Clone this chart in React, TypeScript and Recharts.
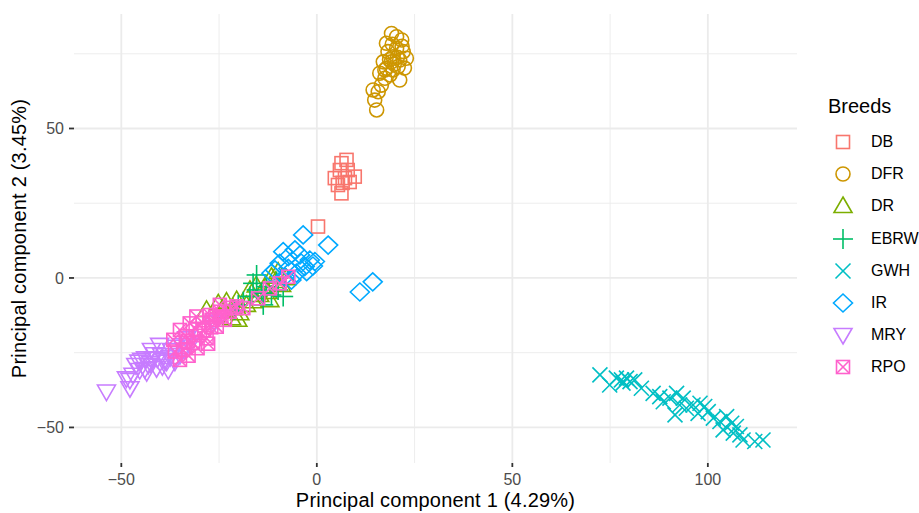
import React from "react";
import { ScatterChart, Scatter, XAxis, YAxis, ReferenceLine } from "recharts";

// PCA scores per breed, [PC1, PC2]
const dbPoints = [
  [7.6, 39.5], [6.3, 38.4], [5.9, 36.1], [4.6, 33.4], [9.7, 33.9], [6.3, 28.3],
  [7.2, 33.4], [6.6, 31.8], [7.9, 36.1], [8.4, 32.1], [5.4, 31.1], [0.3, 17.2],
];
const dfrPoints = [
  [15.3, 56.2], [14.8, 59.5], [14.4, 62.9], [15.7, 62.3], [16.5, 64.5], [17.4, 66.8],
  [18.7, 67.9], [19.5, 69.6], [20.8, 70.7], [19.1, 81.8], [20.4, 80.7], [21.7, 79.6],
  [17.8, 78.5], [18.2, 75.7], [22.1, 75.7], [22.9, 73.5], [17.0, 72.3], [19.5, 74.0],
  [21.2, 72.9], [17.8, 70.1], [20.4, 76.8], [19.1, 72.3], [17.4, 69.6], [21.2, 66.2],
  [16.1, 68.5], [19.8, 71.5], [20.6, 73.8], [18.6, 73.0], [21.8, 77.5], [19.3, 78.2],
  [22.4, 70.2],
];
const drPoints = [
  [-28.2, -10.7], [-25.2, -8.5], [-23.1, -7.9], [-21.4, -10.1], [-19.7, -11.8],
  [-18.0, -9.0], [-14.6, -5.7], [-13.3, -2.9], [-11.6, 0.4], [-9.9, 2.1],
  [-12.0, -7.4], [-9.0, -2.3], [-7.8, -0.1], [-21.8, -13.5], [-17.1, -4.0],
  [-20.5, -7.4], [-20.2, -14.0], [-12.5, -4.7], [-16.2, -7.8], [-24.3, -11.0],
  [-15.5, -2.5], [-10.5, -1.0],
];
const ebrwPoints = [
  [-16.3, -1.8], [-14.1, -5.1], [-13.7, -9.0], [-11.6, -5.7], [-9.9, -4.0],
  [-17.1, -6.2], [-18.8, -7.9], [-10.3, -1.2], [-12.9, -2.9], [-15.4, 1.0],
  [-20.1, -9.0], [-8.6, -6.2], [-15.4, -4.0], [-21.0, -10.7],
];
const gwhPoints = [
  [72.4, -32.4], [74.9, -35.8], [76.6, -33.5], [77.9, -34.1], [79.2, -33.5],
  [80.1, -34.7], [78.3, -35.2], [81.3, -34.1], [83.0, -36.9], [86.0, -38.6],
  [87.7, -39.7], [90.3, -40.2], [92.0, -38.6], [91.6, -45.8], [92.8, -42.5],
  [94.5, -43.6], [96.2, -42.5], [98.0, -41.9], [99.2, -43.0], [97.5, -45.3],
  [100.1, -44.7], [101.4, -46.9], [103.1, -48.0], [104.8, -46.4], [106.1, -48.6],
  [103.9, -50.8], [107.3, -49.7], [108.2, -52.5], [109.0, -54.2], [112.0, -54.7],
  [114.1, -54.2], [106.5, -51.9], [93.7, -40.2], [88.6, -41.4],
];
const irPoints = [
  [-3.5, 14.4], [2.9, 11.0], [-8.6, 8.8], [-5.6, 9.4], [-7.3, 7.1], [-4.3, 7.7],
  [-1.8, 6.0], [-3.1, 3.8], [-0.5, 5.5], [-9.5, 4.9], [-10.7, 2.7], [-7.3, 3.2],
  [-5.2, 1.6], [-11.6, 1.6], [-8.2, 0.4], [-6.5, -0.7], [-2.6, 2.1],
  [11.0, -4.7], [14.3, -1.3], [-4.0, 5.0], [-1.0, 4.0],
];
const mryPoints = [
  [-53.8, -38.0], [-47.8, -36.9], [-48.7, -33.6], [-47.0, -32.4], [-45.3, -30.8],
  [-44.8, -27.4], [-43.1, -29.1], [-41.9, -26.9], [-39.7, -25.8], [-38.0, -30.8],
  [-41.0, -30.2], [-37.2, -24.1], [-42.3, -24.1], [-35.0, -25.8], [-33.3, -20.2],
  [-32.5, -22.4], [-40.2, -22.4], [-43.8, -26.9], [-46.3, -29.1], [-26.1, -14.6],
  [-26.6, -15.0], [-47.8, -34.1], [-38.4, -28.0], [-36.3, -28.0], [-45.5, -28.0],
  [-44.0, -30.5], [-42.5, -28.5], [-40.8, -27.0], [-39.0, -27.5], [-37.5, -26.5],
  [-36.0, -23.0], [-34.5, -22.5], [-41.5, -25.5], [-43.5, -31.5], [-39.5, -29.5],
  [-33.8, -24.0],
];
const rpoPoints = [
  [-15.0, -6.8], [-7.3, 0.4], [-9.5, -1.8], [-18.8, -10.1], [-22.3, -11.3],
  [-24.8, -11.3], [-26.9, -14.0], [-23.5, -14.0], [-24.8, -9.0], [-27.4, -12.4],
  [-32.5, -15.2], [-35.0, -17.4], [-29.9, -18.5], [-34.2, -24.1], [-35.0, -27.4],
  [-31.6, -21.8], [-28.2, -20.2], [-25.6, -16.3], [-36.7, -20.7], [-36.3, -24.6],
  [-30.8, -12.9], [-24.4, -12.9], [-29.2, -15.0], [-33.5, -19.5], [-31.0, -17.0],
  [-28.8, -17.5], [-27.0, -16.5], [-30.5, -23.5], [-32.8, -26.0], [-26.0, -13.0],
  [-22.0, -10.0], [-20.5, -9.5], [-33.0, -21.0], [-27.8, -22.0], [-12.0, -3.5],
];

const breeds = ["DB", "DFR", "DR", "EBRW", "GWH", "IR", "MRY", "RPO"];
const breedColors = ["#F8766D", "#CD9600", "#7CAE00", "#00BE67", "#00BFC4", "#00A9FF", "#C77CFF", "#FF61CC"];
const breedShapes = ["square", "circle", "triangle", "plus", "cross", "diamond", "triangleDown", "squareCross"];
const breedPoints = [dbPoints, dfrPoints, drPoints, ebrwPoints, gwhPoints, irPoints, mryPoints, rpoPoints];

const xTicks = [-50, 0, 50, 100];
const yTicks = [-50, 0, 50];
const minorX = [-25, 25, 75];
const minorY = [-25, 25, 75];

const GRID = "#EBEBEB";
const SW = 1.6;

const fmt = (v: number) => String(v).replace("-", "\u2212");

function Marker({ cx, cy, shape, color }: { cx: number; cy: number; shape: string; color: string }) {
  const p = { stroke: color, strokeWidth: SW, fill: "none" };
  switch (shape) {
    case "square":
      return <rect x={cx - 6.5} y={cy - 6.5} width={13} height={13} {...p} />;
    case "circle":
      return <circle cx={cx} cy={cy} r={7} {...p} />;
    case "triangle":
      return <polygon points={`${cx},${cy - 9} ${cx + 9},${cy + 6.5} ${cx - 9},${cy + 6.5}`} {...p} />;
    case "triangleDown":
      return <polygon points={`${cx},${cy + 9} ${cx + 9},${cy - 6.5} ${cx - 9},${cy - 6.5}`} {...p} />;
    case "plus":
      return (
        <g {...p}>
          <line x1={cx - 10} y1={cy} x2={cx + 10} y2={cy} />
          <line x1={cx} y1={cy - 10} x2={cx} y2={cy + 10} />
        </g>
      );
    case "cross":
      return (
        <g {...p}>
          <line x1={cx - 7.5} y1={cy - 7.5} x2={cx + 7.5} y2={cy + 7.5} />
          <line x1={cx - 7.5} y1={cy + 7.5} x2={cx + 7.5} y2={cy - 7.5} />
        </g>
      );
    case "diamond":
      return <polygon points={`${cx},${cy - 9} ${cx + 9.5},${cy} ${cx},${cy + 9} ${cx - 9.5},${cy}`} {...p} />;
    case "squareCross":
      return (
        <g {...p}>
          <rect x={cx - 6.5} y={cy - 6.5} width={13} height={13} />
          <line x1={cx - 6.5} y1={cy - 6.5} x2={cx + 6.5} y2={cy + 6.5} />
          <line x1={cx - 6.5} y1={cy + 6.5} x2={cx + 6.5} y2={cy - 6.5} />
        </g>
      );
    default:
      return null;
  }
}

const series = breeds.map((name, i) => ({
  name,
  color: breedColors[i],
  shape: breedShapes[i],
  data: breedPoints[i].map(([x, y]) => ({ x, y })),
}));

export default function App() {
  return (
    <div
      style={{
        position: "relative",
        width: 919,
        height: 513,
        background: "#fff",
        fontFamily: "'Liberation Sans', Arial, Helvetica, sans-serif",
      }}
    >
      <style>{`body{margin:0}`}</style>
      <ScatterChart width={919} height={513} margin={{ top: 14, right: 122, bottom: 0, left: 0 }}>
        {minorX.map((v) => (
          <ReferenceLine key={"mx" + v} x={v} stroke={GRID} strokeWidth={0.9} />
        ))}
        {minorY.map((v) => (
          <ReferenceLine key={"my" + v} y={v} stroke={GRID} strokeWidth={0.9} />
        ))}
        {xTicks.map((v) => (
          <ReferenceLine key={"x" + v} x={v} stroke={GRID} strokeWidth={1.8} />
        ))}
        {yTicks.map((v) => (
          <ReferenceLine key={"y" + v} y={v} stroke={GRID} strokeWidth={1.8} />
        ))}
        <XAxis
          type="number"
          dataKey="x"
          domain={[-62.1, 122.8]}
          allowDataOverflow
          ticks={xTicks}
          tickFormatter={fmt}
          height={50}
          axisLine={false}
          tickLine={{ stroke: "#333333", strokeWidth: 1.8 }}
          tickSize={4}
          tickMargin={7}
          tick={{ fill: "#4D4D4D", fontSize: 16 }}
          label={{
            value: "Principal component 1 (4.29%)",
            position: "insideBottom",
            offset: 6,
            fill: "#000",
            fontSize: 20,
            style: { letterSpacing: 0.2 },
          }}
        />
        <YAxis
          type="number"
          dataKey="y"
          domain={[-61.9, 88.3]}
          allowDataOverflow
          ticks={yTicks}
          tickFormatter={fmt}
          width={74}
          axisLine={false}
          tickLine={{ stroke: "#333333", strokeWidth: 1.8 }}
          tickSize={5}
          tickMargin={5}
          tick={{ fill: "#4D4D4D", fontSize: 16 }}
          label={{
            value: "Principal component 2 (3.45%)",
            angle: -90,
            position: "insideLeft",
            offset: 19,
            fill: "#000",
            fontSize: 20,
            style: { textAnchor: "middle", letterSpacing: 0.2 },
          }}
        />
        {series.map((s) => (
          <Scatter
            key={s.name}
            name={s.name}
            data={s.data}
            isAnimationActive={false}
            shape={(props: any) => <Marker cx={props.cx} cy={props.cy} shape={s.shape} color={s.color} />}
          />
        ))}
      </ScatterChart>
      <div style={{ position: "absolute", left: 828, top: 94, color: "#000" }}>
        <div style={{ fontSize: 20, lineHeight: "24px", whiteSpace: "nowrap" }}>Breeds</div>
        <div style={{ marginTop: 8 }}>
          {series.map((s) => (
            <div
              key={s.name}
              style={{ display: "flex", alignItems: "center", height: 32.2, whiteSpace: "nowrap" }}
            >
              <svg width={22} height={22} style={{ marginLeft: 4 }}>
                <Marker cx={11} cy={11} shape={s.shape} color={s.color} />
              </svg>
              <span style={{ fontSize: 16, marginLeft: 17 }}>{s.name}</span>
            </div>
          ))}
        </div>
      </div>
    </div>
  );
}
